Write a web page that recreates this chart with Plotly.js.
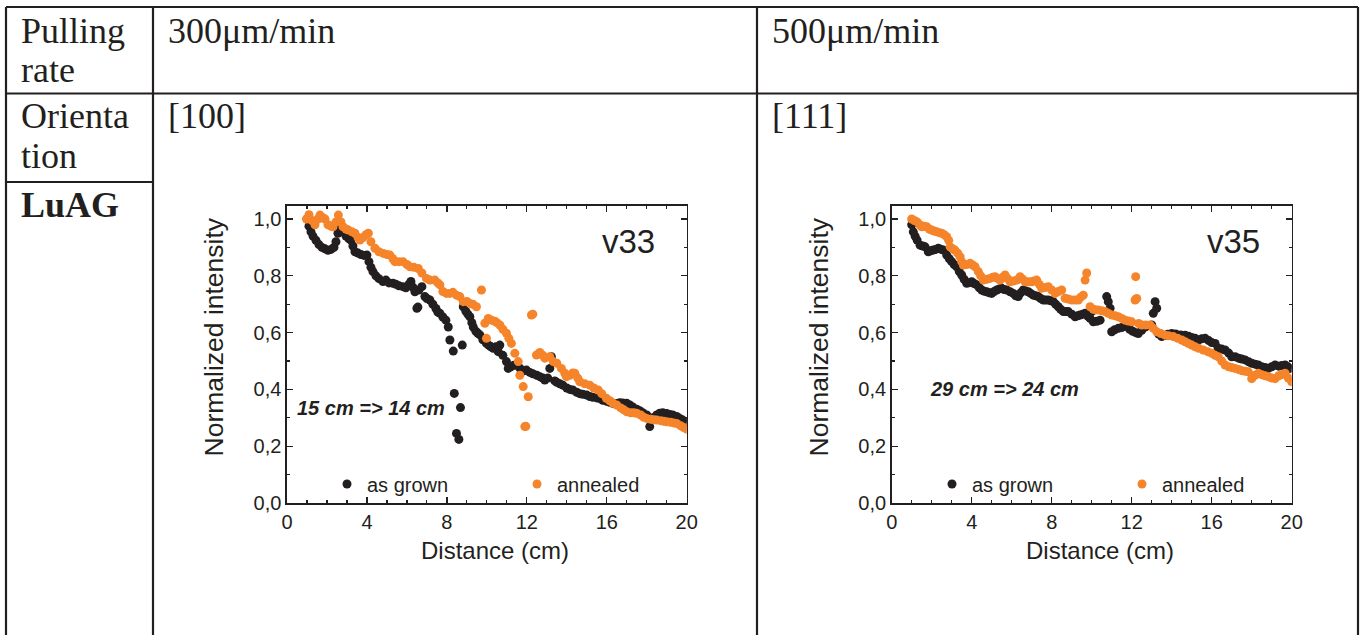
<!DOCTYPE html>
<html>
<head>
<meta charset="utf-8">
<script src="https://cdn.plot.ly/plotly-3.0.1.min.js"></script>
<style>html,body{margin:0;padding:0;background:#fff;overflow:hidden;}#chart{width:1365px;height:635px;}</style>
</head>
<body>
<div id="chart"></div>
<script>
// ---------------- DATA ----------------
// v33, [100], 300 µm/min — as grown
const v33GrownX = [1.0,1.1,1.2,1.3,1.45,1.6,1.75,1.9,2.05,2.2,2.35,2.45,2.55,2.65,2.8,2.95,3.1,3.2,3.3,3.4,3.55,3.7,3.85,4.0,4.1,4.2,4.3,4.45,4.6,4.8,4.95,5.1,5.3,5.45,5.6,5.8,5.95,6.1,6.2,6.3,6.4,6.5,6.55,6.6,6.75,6.9,7.0,7.15,7.3,7.45,7.55,7.65,7.8,7.95,8.07,8.15,8.32,8.37,8.48,8.6,8.68,8.77,8.82,8.95,9.05,9.15,9.25,9.32,9.45,9.55,9.65,9.8,9.98,10.1,10.2,10.32,10.45,10.57,10.65,10.8,10.98,11.07,11.2,11.35,11.5,11.65,11.8,11.98,12.15,12.3,12.5,12.65,12.8,12.9,13.05,13.15,13.23,13.4,13.5,13.65,13.8,14.0,14.15,14.3,14.5,14.65,14.8,15.0,15.15,15.3,15.5,15.65,15.8,16.0,16.15,16.3,16.5,16.65,16.8,17.0,17.15,17.3,17.5,17.65,17.8,18.0,18.15,18.3,18.5,18.65,18.8,19.0,19.15,19.3,19.5,19.65,19.8,19.95];
const v33GrownY = [1.0,0.975,0.955,0.94,0.925,0.91,0.9,0.895,0.89,0.893,0.9,0.92,0.95,0.965,0.955,0.94,0.93,0.926,0.905,0.885,0.88,0.875,0.872,0.873,0.85,0.83,0.815,0.8,0.79,0.78,0.785,0.775,0.774,0.77,0.765,0.762,0.758,0.77,0.78,0.76,0.744,0.686,0.69,0.75,0.762,0.727,0.72,0.715,0.7,0.685,0.672,0.668,0.655,0.644,0.62,0.574,0.535,0.386,0.245,0.224,0.336,0.556,0.691,0.675,0.665,0.656,0.635,0.62,0.605,0.598,0.592,0.575,0.562,0.555,0.55,0.545,0.55,0.533,0.556,0.52,0.498,0.474,0.48,0.485,0.486,0.475,0.465,0.468,0.46,0.455,0.45,0.445,0.44,0.433,0.44,0.474,0.515,0.43,0.425,0.42,0.415,0.405,0.4,0.398,0.39,0.385,0.383,0.38,0.375,0.372,0.37,0.368,0.362,0.358,0.355,0.351,0.35,0.353,0.352,0.351,0.345,0.338,0.33,0.325,0.318,0.31,0.269,0.3,0.31,0.316,0.318,0.315,0.312,0.31,0.305,0.298,0.292,0.285];
// v33 — annealed
const v33AnnX = [0.98,1.1,1.25,1.4,1.55,1.65,1.8,1.9,2.05,2.2,2.3,2.45,2.57,2.7,2.8,2.95,3.07,3.25,3.4,3.55,3.65,3.8,3.95,4.07,4.2,4.4,4.6,4.82,5.0,5.15,5.3,5.4,5.6,5.8,6.0,6.15,6.35,6.57,6.75,6.98,7.15,7.4,7.55,7.65,7.8,7.98,8.15,8.3,8.48,8.65,8.82,9.0,9.15,9.3,9.48,9.73,9.9,9.98,10.07,10.23,10.4,10.5,10.65,10.8,10.98,11.1,11.23,11.4,11.57,11.65,11.82,11.9,11.95,12.07,12.23,12.3,12.48,12.65,12.8,12.9,13.15,13.32,13.5,13.73,13.9,13.98,14.15,14.3,14.4,14.55,14.65,14.9,15.15,15.35,15.57,15.75,15.98,16.15,16.3,16.5,16.7,16.85,17.0,17.2,17.35,17.5,17.7,17.85,18.0,18.2,18.35,18.5,18.7,18.85,19.0,19.2,19.35,19.5,19.7,19.85,20.0];
const v33AnnY = [1.0,1.015,0.995,0.98,1.0,1.014,1.005,1.0,0.98,0.975,0.973,0.99,1.014,0.99,0.973,0.965,0.961,0.955,0.95,0.935,0.926,0.935,0.945,0.95,0.92,0.897,0.885,0.879,0.875,0.873,0.86,0.85,0.85,0.85,0.84,0.832,0.83,0.826,0.81,0.791,0.785,0.785,0.775,0.768,0.745,0.738,0.738,0.742,0.732,0.727,0.709,0.71,0.703,0.7,0.691,0.75,0.633,0.58,0.65,0.644,0.64,0.635,0.627,0.612,0.598,0.58,0.562,0.527,0.498,0.45,0.41,0.269,0.27,0.374,0.662,0.665,0.521,0.53,0.52,0.51,0.515,0.498,0.492,0.474,0.457,0.445,0.45,0.458,0.457,0.44,0.427,0.42,0.415,0.405,0.398,0.385,0.369,0.36,0.352,0.345,0.335,0.328,0.321,0.318,0.318,0.316,0.31,0.302,0.298,0.295,0.293,0.292,0.29,0.288,0.286,0.284,0.282,0.28,0.272,0.266,0.26];
// v35, [111], 500 µm/min — as grown
const v35GrownX = [1.0,1.08,1.17,1.27,1.42,1.55,1.67,1.83,1.95,2.08,2.2,2.33,2.45,2.58,2.75,2.88,3.0,3.12,3.25,3.38,3.5,3.62,3.75,3.88,4.0,4.12,4.25,4.38,4.5,4.62,4.75,4.88,5.0,5.12,5.25,5.38,5.5,5.62,5.75,5.92,6.08,6.2,6.33,6.45,6.58,6.7,6.83,6.95,7.08,7.2,7.33,7.45,7.58,7.7,7.83,7.95,8.08,8.2,8.33,8.45,8.58,8.7,8.83,9.0,9.17,9.3,9.42,9.55,9.67,9.8,9.92,10.0,10.08,10.25,10.42,10.75,10.83,10.92,11.0,11.15,11.33,11.5,11.75,11.9,12.05,12.2,12.33,12.5,12.67,12.85,13.0,13.08,13.17,13.25,13.35,13.5,13.65,13.8,14.0,14.2,14.45,14.67,14.85,15.0,15.17,15.33,15.5,15.67,15.85,16.0,16.17,16.33,16.5,16.67,16.85,17.0,17.17,17.35,17.5,17.67,17.85,18.0,18.17,18.33,18.5,18.67,18.83,19.0,19.17,19.35,19.5,19.67,19.8,19.9];
const v35GrownY = [0.98,0.955,0.94,0.926,0.908,0.905,0.902,0.885,0.888,0.891,0.893,0.897,0.894,0.891,0.873,0.86,0.85,0.84,0.832,0.815,0.803,0.788,0.774,0.776,0.779,0.773,0.768,0.758,0.75,0.746,0.744,0.74,0.738,0.745,0.75,0.754,0.756,0.752,0.75,0.744,0.738,0.73,0.727,0.74,0.75,0.747,0.744,0.738,0.732,0.73,0.727,0.72,0.715,0.715,0.715,0.712,0.709,0.7,0.691,0.682,0.674,0.674,0.674,0.665,0.656,0.659,0.662,0.665,0.668,0.658,0.65,0.674,0.638,0.64,0.644,0.727,0.709,0.686,0.603,0.61,0.615,0.618,0.621,0.612,0.605,0.6,0.597,0.608,0.62,0.625,0.627,0.668,0.709,0.686,0.595,0.586,0.59,0.594,0.597,0.595,0.592,0.591,0.587,0.583,0.58,0.574,0.578,0.58,0.572,0.565,0.562,0.545,0.542,0.539,0.528,0.515,0.515,0.51,0.507,0.504,0.497,0.492,0.489,0.486,0.48,0.477,0.474,0.48,0.486,0.482,0.484,0.486,0.48,0.474];
// v35 — annealed
const v35AnnX = [1.0,1.13,1.27,1.4,1.5,1.62,1.75,1.88,2.0,2.12,2.25,2.38,2.5,2.62,2.75,2.85,2.92,3.05,3.15,3.3,3.42,3.5,3.58,3.75,3.92,4.05,4.17,4.33,4.45,4.58,4.75,4.92,5.05,5.17,5.3,5.42,5.55,5.67,5.8,5.92,6.08,6.25,6.42,6.55,6.67,6.83,7.0,7.12,7.25,7.38,7.5,7.67,7.83,8.0,8.17,8.33,8.5,8.67,8.83,9.0,9.17,9.33,9.45,9.58,9.67,9.75,9.92,10.08,10.2,10.33,10.5,10.67,10.83,11.0,11.17,11.33,11.5,11.67,11.83,12.0,12.17,12.25,12.2,12.35,12.5,12.7,12.92,13.08,13.25,13.45,13.67,13.85,14.08,14.3,14.5,14.67,14.83,15.0,15.17,15.35,15.58,15.8,16.0,16.17,16.33,16.5,16.67,16.85,17.0,17.17,17.35,17.5,17.67,17.83,18.0,18.17,18.33,18.5,18.67,18.83,19.0,19.17,19.35,19.5,19.67,19.83,20.0];
const v35AnnY = [1.0,0.995,0.99,0.98,0.973,0.975,0.973,0.965,0.961,0.958,0.955,0.952,0.95,0.945,0.938,0.925,0.902,0.895,0.891,0.88,0.867,0.85,0.838,0.84,0.844,0.838,0.832,0.815,0.8,0.785,0.788,0.791,0.795,0.797,0.79,0.785,0.795,0.803,0.79,0.779,0.782,0.785,0.797,0.788,0.779,0.779,0.779,0.782,0.785,0.77,0.756,0.759,0.762,0.75,0.738,0.745,0.75,0.721,0.718,0.715,0.715,0.715,0.725,0.732,0.785,0.81,0.691,0.682,0.68,0.68,0.677,0.674,0.668,0.662,0.659,0.656,0.65,0.644,0.641,0.638,0.715,0.72,0.797,0.632,0.627,0.627,0.627,0.615,0.603,0.597,0.591,0.589,0.586,0.58,0.574,0.568,0.562,0.556,0.55,0.545,0.539,0.533,0.527,0.52,0.515,0.5,0.486,0.48,0.477,0.474,0.47,0.466,0.464,0.462,0.438,0.45,0.457,0.452,0.448,0.445,0.44,0.438,0.448,0.452,0.457,0.44,0.427];

const seriesNames = ['as grown', 'annealed'];
const xTickVals = [0, 4, 8, 12, 16, 20];
const xTickText = ['0', '4', '8', '12', '16', '20'];
const yTickVals = [0, 0.2, 0.4, 0.6, 0.8, 1.0];
const yTickText = ['0,0', '0,2', '0,4', '0,6', '0,8', '1,0'];
const xTitle = 'Distance (cm)';
const yTitle = 'Normalized intensity';
const sampleLabels = ['v33', 'v35'];
const shrinkLabels = ['15 cm => 14 cm', '29 cm => 24 cm'];
const tableRowHeads = [['Pulling', 'rate'], ['Orienta', 'tion'], ['LuAG']];
const pullingRates = ['300μm/min', '500μm/min'];
const orientations = ['[100]', '[111]'];

// ---------------- LAYOUT ----------------
const W = 1365, H = 635;
const px = v => v / W;
const py = v => 1 - v / H;
const INK = '#231f20';
const ORANGE = '#f5842a';
const SANS = 'Liberation Sans, Arial, sans-serif';
const SERIF = 'Liberation Serif, Times New Roman, serif';

function mk(x, y, name, color, xa, ya, leg) {
  return {x: x, y: y, type: 'scatter', mode: 'markers', name: name,
    xaxis: xa, yaxis: ya, legend: leg, showlegend: true,
    marker: {color: color, size: 9, line: {width: 0}}, hoverinfo: 'skip'};
}

const traces = [
  mk(v33GrownX, v33GrownY, seriesNames[0], INK, 'x', 'y', 'legend'),
  mk(v33AnnX, v33AnnY, seriesNames[1], ORANGE, 'x', 'y', 'legend'),
  mk(v35GrownX, v35GrownY, seriesNames[0], INK, 'x2', 'y2', 'legend2'),
  mk(v35AnnX, v35AnnY, seriesNames[1], ORANGE, 'x2', 'y2', 'legend2')
];

function xAxis(domain, anchor) {
  return {domain: domain, anchor: anchor, range: [0, 20], tickvals: xTickVals, ticktext: xTickText,
    ticks: 'inside', ticklen: 6, tickwidth: 1.3, tickcolor: INK, mirror: 'ticks', showline: true,
    linecolor: INK, linewidth: 1.6, showgrid: false, zeroline: false,
    minor: {dtick: 1, tick0: 0, ticks: 'inside', ticklen: 3, tickwidth: 1.2, tickcolor: INK, showgrid: false},
    tickfont: {family: SANS, size: 20, color: INK},
    title: {text: ''}, fixedrange: true, automargin: false};
}
function yAxis(anchor) {
  return {domain: [py(503), py(205.7)], anchor: anchor, range: [0, 1.047], tickvals: yTickVals, ticktext: yTickText,
    ticks: 'inside', ticklen: 6, tickwidth: 1.3, tickcolor: INK, mirror: 'ticks', showline: true,
    linecolor: INK, linewidth: 1.6, showgrid: false, zeroline: false,
    minor: {dtick: 0.1, tick0: 0, ticks: 'inside', ticklen: 3, tickwidth: 1.2, tickcolor: INK, showgrid: false},
    tickfont: {family: SANS, size: 20, color: INK},
    title: {text: ''}, fixedrange: true, automargin: false};
}

const lineStyle = {color: INK, width: 2.2};
function seg(x0, y0, x1, y1) {
  return {type: 'line', xref: 'paper', yref: 'paper', x0: px(x0), y0: py(y0), x1: px(x1), y1: py(y1), line: lineStyle, layer: 'above'};
}
const shapes = [
  seg(6, 7, 1358, 7), seg(6, 93.5, 1358, 93.5), seg(6, 182, 153, 182),
  seg(6, 7, 6, 640), seg(153, 7, 153, 640), seg(757, 7, 757, 640), seg(1358, 7, 1358, 640)
];

function note(text, x, y, size, family, xanchor, angle) {
  return {text: text, xref: 'paper', yref: 'paper', x: px(x), y: py(y), xanchor: xanchor || 'left', yanchor: 'middle',
    textangle: angle || 0, showarrow: false, font: {family: family, size: size, color: INK}};
}
const annotations = [
  note(tableRowHeads[0][0], 19, 31, 36, SERIF), note(tableRowHeads[0][1], 19, 70, 36, SERIF),
  note(tableRowHeads[1][0], 19, 116, 36, SERIF), note(tableRowHeads[1][1], 19, 156, 36, SERIF),
  note('<b>' + tableRowHeads[2][0] + '</b>', 19, 205, 36, SERIF),
  note(pullingRates[0], 166, 31, 36, SERIF), note(pullingRates[1], 770, 31, 36, SERIF),
  note(orientations[0], 166, 116, 36, SERIF), note(orientations[1], 770, 116, 36, SERIF),
  note(sampleLabels[0], 600, 241, 33, SANS), note(sampleLabels[1], 1205, 241, 33, SANS),
  note('<b><i>' + shrinkLabels[0] + '</i></b>', 295, 408, 20, SANS),
  note('<b><i>' + shrinkLabels[1] + '</i></b>', 928, 389, 20, SANS),
  note(xTitle, 494.5, 550, 24, SANS, 'center'),
  note(xTitle, 1099.5, 550, 24, SANS, 'center'),
  note(yTitle, 213, 337.5, 26.5, SANS, 'center', -90),
  note(yTitle, 818, 337.5, 26.5, SANS, 'center', -90)
];

function legendAt(x, y) {
  return {x: px(x), y: py(y), xanchor: 'left', yanchor: 'middle', orientation: 'h',
    entrywidth: 145, entrywidthmode: 'pixels', bgcolor: 'rgba(0,0,0,0)', borderwidth: 0,
    font: {family: SANS, size: 20, color: INK}, itemclick: false, itemdoubleclick: false, tracegroupgap: 0};
}

const layout = {
  width: W, height: H, margin: {l: 0, r: 0, t: 0, b: 0, pad: 0, autoexpand: false},
  paper_bgcolor: '#ffffff', plot_bgcolor: '#ffffff',
  xaxis: xAxis([px(287), px(686.7)], 'y'),
  yaxis: yAxis('x'),
  xaxis2: xAxis([px(891.7), px(1291.7)], 'y2'),
  yaxis2: yAxis('x2'),
  legend: legendAt(327, 484),
  legend2: legendAt(932, 484),
  shapes: shapes,
  annotations: annotations,
  hovermode: false
};

Plotly.newPlot('chart', traces, layout, {displayModeBar: false, staticPlot: true});
</script>
</body>
</html>
